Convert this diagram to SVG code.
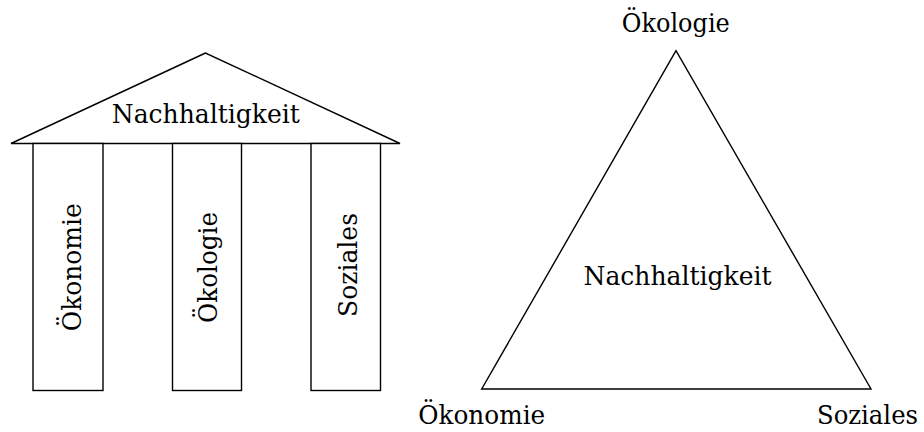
<svg xmlns="http://www.w3.org/2000/svg" width="924" height="432" viewBox="0 0 924 432">
<style>
.s{fill:#fff;stroke:#000;stroke-width:1.4;stroke-linejoin:miter}
.t{font-family:'DejaVu Serif','Liberation Serif',serif;font-size:26px;fill:#000;text-anchor:middle}
</style>
<rect width="924" height="432" fill="#fff"/>
<g id="temple">
  <g id="roof">
    <polygon class="s" points="205.5,53 11,143.5 400,143.5"/>
    <text class="t" x="205.8" y="122.5" textLength="188" lengthAdjust="spacingAndGlyphs">Nachhaltigkeit</text>
  </g>
  <g id="pillar-oekonomie">
    <rect class="s" x="33" y="143.5" width="70" height="247"/>
    <text class="t" transform="translate(81,267.3) rotate(-90)" textLength="128" lengthAdjust="spacingAndGlyphs">Ökonomie</text>
  </g>
  <g id="pillar-oekologie">
    <rect class="s" x="172.5" y="143.5" width="69" height="247"/>
    <text class="t" transform="translate(217,267.5) rotate(-90)" textLength="111" lengthAdjust="spacingAndGlyphs">Ökologie</text>
  </g>
  <g id="pillar-soziales">
    <rect class="s" x="311" y="143.5" width="69.5" height="247"/>
    <text class="t" transform="translate(357,265) rotate(-90)" textLength="104" lengthAdjust="spacingAndGlyphs">Soziales</text>
  </g>
</g>
<g id="triangle">
  <g id="tri-shape">
    <polygon class="s" points="676,50.7 481.7,389 871,389"/>
    <text class="t" x="677.5" y="285" textLength="188" lengthAdjust="spacingAndGlyphs">Nachhaltigkeit</text>
  </g>
  <g id="label-oekologie">
    <text class="t" x="675.8" y="32" textLength="108" lengthAdjust="spacingAndGlyphs">Ökologie</text>
  </g>
  <g id="label-oekonomie">
    <text class="t" x="481.7" y="423.5" textLength="127" lengthAdjust="spacingAndGlyphs">Ökonomie</text>
  </g>
  <g id="label-soziales">
    <text class="t" x="867.5" y="423.5" textLength="101" lengthAdjust="spacingAndGlyphs">Soziales</text>
  </g>
</g>
<g id="connectors"></g>
</svg>
